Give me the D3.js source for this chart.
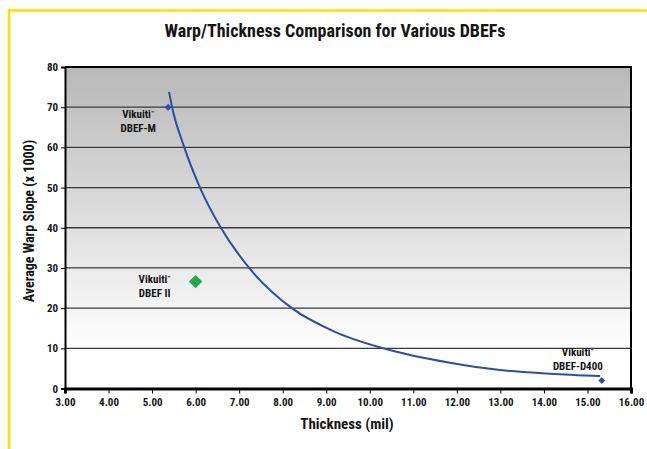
<!DOCTYPE html>
<html>
<head>
<meta charset="utf-8">
<script src="https://cdn.jsdelivr.net/npm/d3@7"></script>
<style>
    body { margin: 0; background: #fff; }
    text { font-family: 'Liberation Sans Narrow', 'Roboto Condensed', 'Arial Narrow', sans-serif; font-weight: bold; fill: #151515; }
</style>
</head>
<body>
<script>

// chart values
const xTicks = [3, 4, 5, 6, 7, 8, 9, 10, 11, 12, 13, 14, 15, 16]
const yTicks = [0, 10, 20, 30, 40, 50, 60, 70, 80]

const productNames = ['DBEF-M', 'DBEF II', 'DBEF-D400']
const productThickness = [5.37, 6.0, 15.33]
const productWarp = [70, 26.6, 2.0]

// trendline as traced on the picture
const trendThickness = [5.39, 5.46, 5.74, 6.10, 6.58, 7.23, 8.21, 9.2, 10.31, 11.84, 12.99, 14.14, 15.29]
const trendWarp = [73.8, 70, 60, 50, 40, 30, 20, 14.1, 10, 6.4, 4.6, 3.7, 3.1]

window.onload = function(){
    chart.setup()
    chart.drawFrame()
    chart.drawAxes()
    chart.drawTrend()
    chart.drawProducts()
    chart.drawTitles()
}

class chart {

    static width = 647
    static height = 449
    static plot = {left: 65, right: 631, top: 67, bottom: 388.5}
    static blue = '#2f4ea3'
    static green = '#22a84a'

    static setup(){
        this.svg = d3.select('body').append('svg')
            .attr('width', this.width)
            .attr('height', this.height)

        this.x = d3.scaleLinear().domain([3, 16]).range([this.plot.left, this.plot.right])
        this.y = d3.scaleLinear().domain([0, 80]).range([this.plot.bottom, this.plot.top])

        const grad = this.svg.append('defs').append('linearGradient')
            .attr('id', 'plotFill')
            .attr('x1', 0).attr('y1', 0).attr('x2', 0).attr('y2', 1)
        grad.append('stop').attr('offset', '0%').attr('stop-color', '#b8b8b8')
        grad.append('stop').attr('offset', '88%').attr('stop-color', '#ffffff')
    }

    static drawFrame(){
        const p = this.plot
        // yellow page border (top and left only)
        this.svg.append('line')
            .attr('x1', 8).attr('x2', this.width).attr('y1', 10.5).attr('y2', 10.5)
            .attr('stroke', '#fde000').attr('stroke-width', 2.5)
        this.svg.append('line')
            .attr('x1', 9).attr('x2', 9).attr('y1', 9).attr('y2', this.height)
            .attr('stroke', '#fde000').attr('stroke-width', 2.5)

        this.svg.append('rect')
            .attr('x', p.left).attr('y', p.top)
            .attr('width', p.right - p.left).attr('height', p.bottom - p.top)
            .attr('fill', 'url(#plotFill)')

        this.svg.append('g')
            .selectAll('line')
            .data(yTicks.filter(t => t > 0 && t < 80))
            .join('line')
            .attr('x1', p.left).attr('x2', p.right)
            .attr('y1', d => this.y(d)).attr('y2', d => this.y(d))
            .attr('stroke', '#3a3a3a').attr('stroke-width', 1.3)

        // top + right border of plot
        this.svg.append('path')
            .attr('d', `M${p.left},${p.top}H${p.right}V${p.bottom}`)
            .attr('fill', 'none').attr('stroke', '#000').attr('stroke-width', 2)
    }

    static drawAxes(){
        const p = this.plot

        const yAxis = d3.axisLeft(this.y)
            .tickValues(yTicks)
            .tickSize(4)
            .tickPadding(3)
            .tickFormat(d3.format('d'))
        const gy = this.svg.append('g')
            .attr('transform', d3Helper.getTranslateString(p.left, 0))
            .call(yAxis)
        gy.select('.domain').attr('stroke', '#000').attr('stroke-width', 2)
        gy.selectAll('text').style('font-size', '11px').attr('fill', '#151515')

        const xAxis = d3.axisBottom(this.x)
            .tickValues(xTicks)
            .tickSize(5)
            .tickPadding(5)
            .tickFormat(d3.format('.2f'))
        const gx = this.svg.append('g')
            .attr('transform', d3Helper.getTranslateString(0, p.bottom))
            .call(xAxis)
        gx.select('.domain').attr('stroke', '#000').attr('stroke-width', 3)
        gx.selectAll('text').style('font-size', '11px').attr('fill', '#151515')
    }

    static drawTrend(){
        const pts = trendThickness.map((t, i) => [t, trendWarp[i]])
        const line = d3.line()
            .x(d => this.x(d[0]))
            .y(d => this.y(d[1]))
            .curve(d3.curveMonotoneX)
        this.svg.append('path')
            .datum(pts)
            .attr('d', line)
            .attr('fill', 'none')
            .attr('stroke', this.blue)
            .attr('stroke-width', 2)
    }

    static drawProducts(){
        const styles = {
            'DBEF-M':    {size: 24, colour: this.blue,  dx: -30, dy: 11},
            'DBEF II':   {size: 90, colour: this.green, dx: -41, dy: 1},
            'DBEF-D400': {size: 24, colour: this.blue,  dx: -24, dy: -24}
        }
        const products = productNames.map((n, i) => ({name: n, t: productThickness[i], w: productWarp[i]}))

        const groups = this.svg.append('g')
            .selectAll('g.product')
            .data(products)
            .join('g')
            .attr('class', 'product')
            .attr('transform', d => d3Helper.getTranslateString(this.x(d.t), this.y(d.w)))

        groups.append('path')
            .attr('d', d => d3.symbol(d3.symbolSquare, styles[d.name].size)())
            .attr('transform', 'rotate(45)')
            .attr('fill', d => styles[d.name].colour)

        const label = groups.append('text')
            .attr('text-anchor', 'middle')
            .style('font-size', '11px')
            .attr('x', d => styles[d.name].dx)
            .attr('y', d => styles[d.name].dy)

        const first = label.append('tspan')
        first.append('tspan').text('Vikuiti')
        first.append('tspan')
            .text('™')
            .style('font-size', '6px')
            .attr('dy', -3)
        label.append('tspan')
            .attr('x', d => styles[d.name].dx)
            .attr('dy', 17)
            .text(d => d.name)
    }

    static drawTitles(){
        this.svg.append('text')
            .attr('x', 335).attr('y', 37)
            .attr('text-anchor', 'middle')
            .style('font-size', '18px')
            .text('Warp/Thickness Comparison for Various DBEFs')

        this.svg.append('text')
            .attr('transform', d3Helper.getTranslateString(34, 221) + ' rotate(-90)')
            .attr('text-anchor', 'middle')
            .style('font-size', '14px')
            .text('Average Warp Slope (x 1000)')

        this.svg.append('text')
            .attr('x', 347).attr('y', 429)
            .attr('text-anchor', 'middle')
            .style('font-size', '15px')
            .text('Thickness (mil)')
    }
}

class d3Helper {
    static getTranslateString(x, y){
        return 'translate(' + x + ',' + y + ')'
    }
}
</script>
</body>
</html>
